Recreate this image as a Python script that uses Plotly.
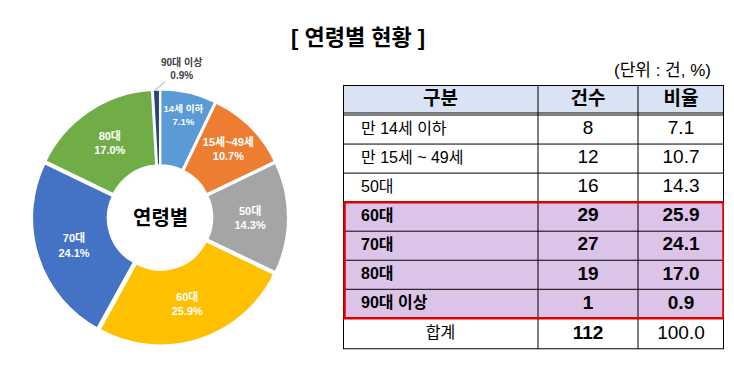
import plotly.graph_objects as go

# ---- data ----
pie_labels = ["14세 이하", "15세~49세", "50대", "60대", "70대", "80대", "90대 이상"]
pie_counts = [8, 12, 16, 29, 27, 19, 1]
pie_pcts = [7.1, 10.7, 14.3, 25.9, 24.1, 17.0, 0.9]
pie_colors = ["#5B9BD5", "#ED7D31", "#A5A5A5", "#FFC000", "#4472C4", "#70AD47", "#264478"]

tbl_header = ["구분", "건수", "비율"]
tbl_cat = ["만 14세 이하", "만 15세 ~ 49세", "50대", "60대", "70대", "80대", "90대 이상", "합계"]
tbl_cnt = [8, 12, 16, 29, 27, 19, 1, 112]
tbl_pct = [7.1, 10.7, 14.3, 25.9, 24.1, 17.0, 0.9, 100.0]
highlight = [False, False, False, True, True, True, True, False]

W, H = 734, 388
FONT = "Liberation Sans, Noto Sans CJK KR, sans-serif"

def px(x):
    return x / W

def py(y):
    return 1 - y / H

fig = go.Figure()

# ---- donut ----
dom_x = [px(32), px(288)]
dom_y = [py(346), py(89)]
text_pos = ["inside"] * 6 + ["none"]
fig.add_trace(go.Pie(
    labels=pie_labels, values=pie_counts, customdata=pie_pcts,
    sort=False, direction="clockwise", rotation=0,
    hole=0.4, pull=0.015,
    marker=dict(colors=pie_colors, line=dict(color="white", width=2)),
    texttemplate="<b>%{label}</b><br><b>%{customdata:.1f}%</b>",
    textposition=text_pos,
    insidetextorientation="horizontal",
    textfont=dict(family=FONT, size=11, color="white"),
    domain=dict(x=dom_x, y=dom_y),
    showlegend=False, hoverinfo="skip",
))

# ---- table (drawn on its own pixel-unit axes) ----
col_w = [195, 100, 86]
header_h, dbl_gap, row_h, total_h = 28, 2, 29.05, 31
tbl_left, tbl_top = 343, 85
tbl_w = sum(col_w)

col_edges = [0]
for w in col_w:
    col_edges.append(col_edges[-1] + w)
col_mid = [(col_edges[i] + col_edges[i + 1]) / 2 for i in range(3)]

row_edges = [header_h + dbl_gap]
for i in range(len(tbl_cat)):
    h = total_h if i == len(tbl_cat) - 1 else row_h
    row_edges.append(row_edges[-1] + h)
row_mid = [(row_edges[i] + row_edges[i + 1]) / 2 for i in range(len(tbl_cat))]
tbl_h = row_edges[-1]

XA, YA = "x", "y"
shapes = []
shapes.append(dict(type="rect", xref=XA, yref=YA, x0=0, x1=tbl_w, y0=0, y1=header_h,
                   fillcolor="#DAE3F3", line=dict(width=0), layer="below"))
for i, hl in enumerate(highlight):
    if hl:
        shapes.append(dict(type="rect", xref=XA, yref=YA, x0=0, x1=tbl_w,
                           y0=row_edges[i], y1=row_edges[i + 1],
                           fillcolor="#DCC4E8", line=dict(width=0), layer="below"))
for yv in [header_h] + row_edges[:-1]:
    shapes.append(dict(type="line", xref=XA, yref=YA, x0=0, x1=tbl_w, y0=yv, y1=yv,
                       line=dict(color="black", width=1)))
for xv in col_edges[1:-1]:
    shapes.append(dict(type="line", xref=XA, yref=YA, x0=xv, x1=xv, y0=0, y1=tbl_h,
                       line=dict(color="black", width=1)))
shapes.append(dict(type="rect", xref=XA, yref=YA, x0=0, x1=tbl_w, y0=0, y1=tbl_h,
                   line=dict(color="black", width=2)))
hl_idx = [i for i, h in enumerate(highlight) if h]
shapes.append(dict(type="rect", xref=XA, yref=YA, x0=1.5, x1=tbl_w - 0.5,
                   y0=row_edges[hl_idx[0]], y1=row_edges[hl_idx[-1] + 1],
                   line=dict(color="#E00000", width=2.5)))

fig.add_trace(go.Scatter(
    x=col_mid, y=[header_h / 2 + 1] * 3, mode="text",
    text=[f"<b>{h}</b>" for h in tbl_header], textposition="middle center",
    textfont=dict(family=FONT, size=19, color="black"),
    xaxis="x", yaxis="y", showlegend=False, hoverinfo="skip", cliponaxis=False,
))

is_total = [c == "합계" for c in tbl_cat]
fig.add_trace(go.Scatter(
    x=[col_mid[0] if t else 18 for t in is_total],
    y=row_mid, mode="text",
    text=[f"<b>{c}</b>" if hl else c for c, hl in zip(tbl_cat, highlight)],
    textposition=["middle center" if t else "middle right" for t in is_total],
    textfont=dict(family=FONT, size=16, color="black"),
    xaxis="x", yaxis="y", showlegend=False, hoverinfo="skip", cliponaxis=False,
))

fig.add_trace(go.Scatter(
    x=[col_mid[1]] * len(tbl_cnt), y=row_mid, mode="text",
    text=[f"<b>{v}</b>" if (hl or t) else str(v) for v, hl, t in zip(tbl_cnt, highlight, is_total)],
    textposition="middle center",
    textfont=dict(family=FONT, size=19, color="black"),
    xaxis="x", yaxis="y", showlegend=False, hoverinfo="skip", cliponaxis=False,
))

fig.add_trace(go.Scatter(
    x=[col_mid[2]] * len(tbl_pct), y=row_mid, mode="text",
    text=[f"<b>{v:.1f}</b>" if hl else f"{v:.1f}" for v, hl in zip(tbl_pct, highlight)],
    textposition="middle center",
    textfont=dict(family=FONT, size=19, color="black"),
    xaxis="x", yaxis="y", showlegend=False, hoverinfo="skip", cliponaxis=False,
))

annotations = [
    dict(text="<b>[ 연령별 현황 ]</b>", x=px(358), y=py(37), xref="paper", yref="paper",
         xanchor="center", yanchor="middle",
         showarrow=False, font=dict(family=FONT, size=22, color="black")),
    dict(text="(단위 : 건, %)", x=px(713), y=py(70), xref="paper", yref="paper",
         xanchor="right", yanchor="middle",
         showarrow=False, font=dict(family=FONT, size=17, color="black")),
    dict(text="<b>연령별</b>", x=(dom_x[0] + dom_x[1]) / 2, y=(dom_y[0] + dom_y[1]) / 2,
         xref="paper", yref="paper", xanchor="center", yanchor="middle", showarrow=False,
         font=dict(family=FONT, size=20, color="black")),
    dict(text=f"<b>{pie_labels[-1]}</b><br><b>{pie_pcts[-1]:.1f}%</b>", x=px(155), y=py(90),
         xref="paper", yref="paper", showarrow=True, arrowhead=0, arrowwidth=1,
         arrowcolor="#A6A6A6", ax=27, ay=-22,
         font=dict(family=FONT, size=10, color="#404040")),
]

fig.update_layout(
    width=W, height=H,
    margin=dict(l=0, r=0, t=0, b=0),
    paper_bgcolor="white", plot_bgcolor="rgba(0,0,0,0)",
    xaxis=dict(domain=[px(tbl_left), px(tbl_left + tbl_w)], range=[0, tbl_w],
               visible=False, fixedrange=True),
    yaxis=dict(domain=[py(tbl_top + tbl_h), py(tbl_top)], range=[tbl_h, 0],
               visible=False, fixedrange=True),
    shapes=shapes, annotations=annotations,
)

fig.write_html("out.html", config={"displayModeBar": False},
               post_script="document.body.style.margin='0';")
